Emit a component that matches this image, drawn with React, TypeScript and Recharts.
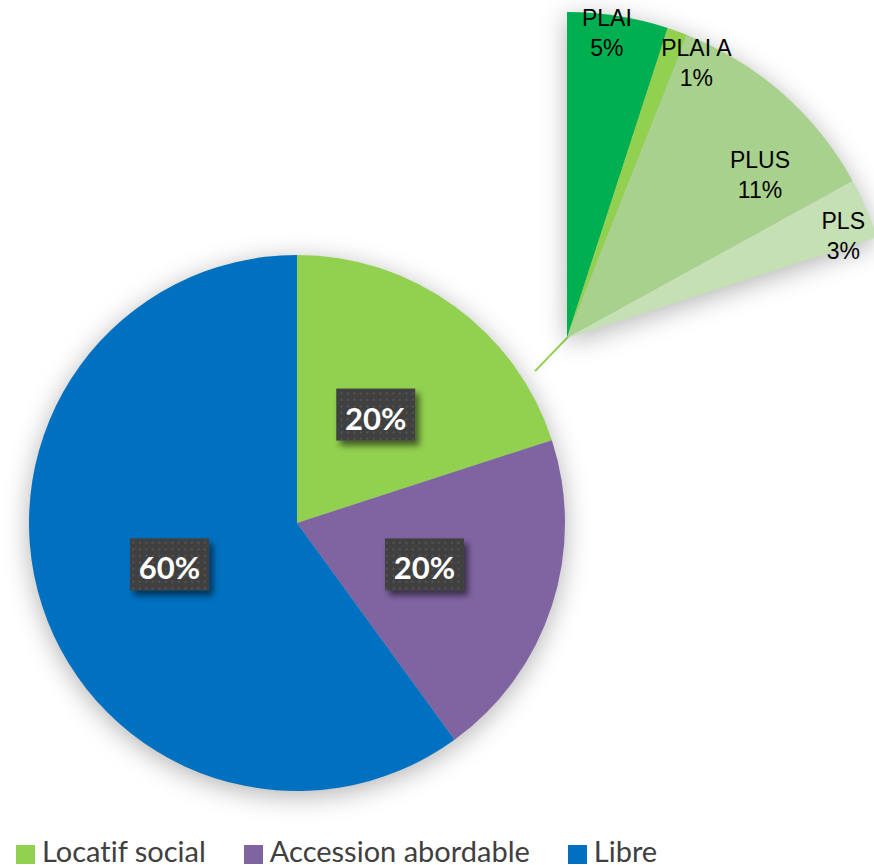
import React from 'react';
import { PieChart, Pie, Cell, Legend, Customized } from 'recharts';

// ---- data ----
const mainCategories = ['Locatif social', 'Accession abordable', 'Libre'];
const mainValues = [20, 20, 60];
const subCategories = ['PLAI', 'PLAI A', 'PLUS', 'PLS'];
const subValues = [5, 1, 11, 3];
const titleText = 'LOGEMENTS ABORDABLES';

const mainData = mainCategories.map((name, i) => ({ name, value: mainValues[i] }));
const subData = subCategories.map((name, i) => ({ name, value: subValues[i] }));
const mainTotal = mainValues.reduce((a, b) => a + b, 0);
const subSweep = (360 * mainValues[0]) / mainTotal;

// ---- styles / layout ----
const MAIN_COLORS = ['#92D050', '#8064A2', '#0070C0'];
const SUB_COLORS = ['#00B050', '#92D050', '#A9D18E', '#C5E0B4'];
const MAIN_GEOM = { cx: 297, cy: 523, r: 268 };
const SUB_GEOM = { cx: 567, cy: 338, r: 326 };
const SUB_LABEL_NUDGE = [
  [-6, -15],
  [30, 1],
  [-1, 57],
  [7, 15],
];
const CONNECTOR = { angle: 226, back: 21, forward: 46 };
const RAD = Math.PI / 180;
const pct = (v: number) => `${Math.round((v / mainTotal) * 100)}%`;

const renderMainLabel = (props: any) => {
  const { cx, cy, midAngle, outerRadius, index } = props;
  const r = outerRadius * 0.5;
  const x = cx + r * Math.cos(-midAngle * RAD);
  const y = cy + r * Math.sin(-midAngle * RAD);
  return (
    <g key={`ml-${index}`}>
      <rect x={x - 39.5} y={y - 26} width={79} height={52} fill="url(#dotPattern)" filter="url(#boxShadow)" />
      <text
        x={x}
        y={y + 3}
        textAnchor="middle"
        dominantBaseline="central"
        fill="#ffffff"
        fontFamily="Lato, 'Open Sans', sans-serif"
        fontWeight={700}
        fontSize={31}
      >
        {pct(mainValues[index])}
      </text>
    </g>
  );
};

const renderSubLabel = (props: any) => {
  const { cx, cy, midAngle, outerRadius, index } = props;
  const r = outerRadius * 0.9;
  const [dx, dy] = SUB_LABEL_NUDGE[index];
  const x = cx + r * Math.cos(-midAngle * RAD) + dx;
  const y = cy + r * Math.sin(-midAngle * RAD) + dy;
  return (
    <text
      key={`sl-${index}`}
      x={x}
      y={y - 15}
      textAnchor="middle"
      dominantBaseline="central"
      fill="#000000"
      fontFamily="'Liberation Sans', Arial, sans-serif"
      fontSize={23}
    >
      <tspan x={x}>{subCategories[index]}</tspan>
      <tspan x={x} dy={30}>
        {pct(subValues[index])}
      </tspan>
    </text>
  );
};

const Connector = () => {
  const a = CONNECTOR.angle * RAD;
  const ux = Math.cos(a);
  const uy = -Math.sin(a);
  return (
    <line
      x1={SUB_GEOM.cx - ux * CONNECTOR.back}
      y1={SUB_GEOM.cy - uy * CONNECTOR.back}
      x2={SUB_GEOM.cx + ux * CONNECTOR.forward}
      y2={SUB_GEOM.cy + uy * CONNECTOR.forward}
      stroke="#92D050"
      strokeWidth={2}
    />
  );
};

const renderLegend = () => (
  <div
    style={{
      display: 'flex',
      alignItems: 'flex-start',
      paddingLeft: 16,
      fontFamily: "Lato, 'Open Sans', sans-serif",
      fontSize: 29,
      lineHeight: '36px',
      color: '#404040',
      whiteSpace: 'nowrap',
      fontVariantLigatures: 'none',
    }}
  >
    {mainCategories.map((name, i) => (
      <div key={name} style={{ display: 'flex', alignItems: 'flex-start', marginRight: 38 }}>
        <span
          style={{
            display: 'inline-block',
            width: 19,
            height: 19,
            marginTop: 12,
            marginRight: 7,
            background: MAIN_COLORS[i],
          }}
        />
        <span>{name}</span>
      </div>
    ))}
  </div>
);

export default function App() {
  return (
    <div style={{ position: 'absolute', left: 0, top: 0, width: 874, height: 865, background: '#fff', overflow: 'hidden' }}>
      <svg width={0} height={0} style={{ position: 'absolute' }}>
        <defs>
          <pattern id="dotPattern" width={6.5} height={6.5} patternUnits="userSpaceOnUse">
            <rect width={6.5} height={6.5} fill="#404040" />
            <rect x={2.5} y={2.5} width={1.7} height={1.7} fill="#5c5c5c" />
          </pattern>
          <filter id="boxShadow" x="-30%" y="-30%" width="170%" height="180%">
            <feDropShadow dx={4} dy={5} stdDeviation={3} floodColor="#000" floodOpacity={0.55} />
          </filter>
          <filter id="softShadow" x="-40%" y="-40%" width="180%" height="180%">
            <feGaussianBlur stdDeviation={13} />
          </filter>
        </defs>
      </svg>
      <div
        style={{
          position: 'absolute',
          left: -38,
          top: -35,
          fontFamily: 'Lato, sans-serif',
          fontWeight: 900,
          fontSize: 38,
          lineHeight: '38px',
          color: '#FFC000',
          whiteSpace: 'nowrap',
          zIndex: 2,
        }}
      >
        {titleText}
      </div>
      <PieChart width={874} height={865} margin={{ top: 0, right: 0, bottom: 0, left: 0 }}>
        <Pie
          data={mainData}
          dataKey="value"
          cx={MAIN_GEOM.cx}
          cy={MAIN_GEOM.cy + 5}
          outerRadius={MAIN_GEOM.r}
          startAngle={90}
          endAngle={-270}
          stroke="none"
          isAnimationActive={false}
          legendType="none"
        >
          {mainData.map((d) => (
            <Cell key={`ms-${d.name}`} fill="#000000" fillOpacity={0.3} filter="url(#softShadow)" />
          ))}
        </Pie>
        <Pie
          data={subData}
          dataKey="value"
          cx={SUB_GEOM.cx}
          cy={SUB_GEOM.cy + 5}
          outerRadius={SUB_GEOM.r}
          startAngle={90}
          endAngle={90 - subSweep}
          stroke="none"
          isAnimationActive={false}
          legendType="none"
        >
          {subData.map((d) => (
            <Cell key={`ss-${d.name}`} fill="#000000" fillOpacity={0.3} filter="url(#softShadow)" />
          ))}
        </Pie>
        <Pie
          data={mainData}
          dataKey="value"
          nameKey="name"
          cx={MAIN_GEOM.cx}
          cy={MAIN_GEOM.cy}
          outerRadius={MAIN_GEOM.r}
          startAngle={90}
          endAngle={-270}
          stroke="none"
          isAnimationActive={false}
          label={renderMainLabel}
          labelLine={false}
        >
          {mainData.map((d, i) => (
            <Cell key={`m-${d.name}`} fill={MAIN_COLORS[i]} />
          ))}
        </Pie>
        <Pie
          data={subData}
          dataKey="value"
          nameKey="name"
          cx={SUB_GEOM.cx}
          cy={SUB_GEOM.cy}
          outerRadius={SUB_GEOM.r}
          startAngle={90}
          endAngle={90 - subSweep}
          stroke="none"
          isAnimationActive={false}
          label={renderSubLabel}
          labelLine={false}
          legendType="none"
        >
          {subData.map((d, i) => (
            <Cell key={`s-${d.name}`} fill={SUB_COLORS[i]} />
          ))}
        </Pie>
        <Customized component={Connector} />
        <Legend content={renderLegend} wrapperStyle={{ left: 0, top: 833, width: 874 }} />
      </PieChart>
    </div>
  );
}
